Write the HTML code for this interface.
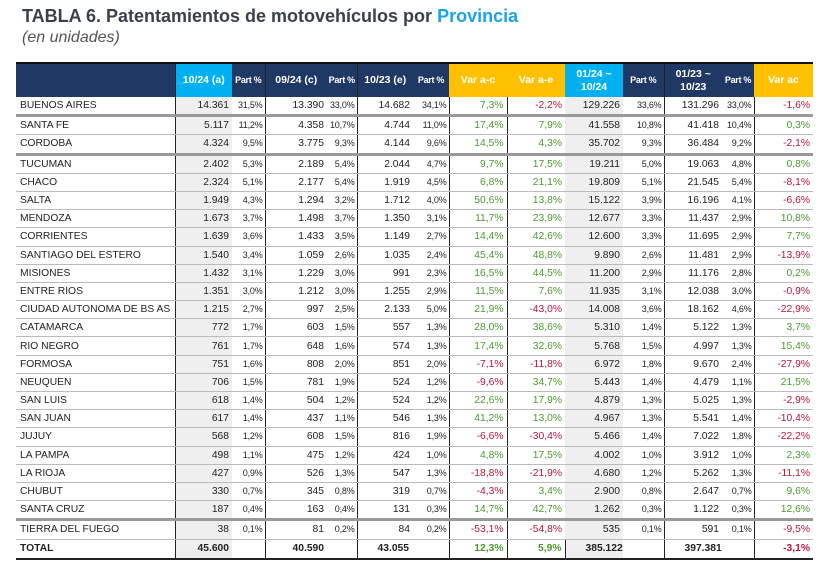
<!DOCTYPE html>
<html><head><meta charset="utf-8"><style>
body{margin:0;width:823px;height:565px;background:#fff;font-family:"Liberation Sans",sans-serif;position:relative;overflow:hidden}
.t1{position:absolute;left:22px;top:6px;font-size:18px;font-weight:bold;color:#3b404c;letter-spacing:0px;white-space:nowrap}
.t1 span{color:#1aa3e8}
.t2{position:absolute;left:22px;top:29px;font-size:16px;font-style:italic;color:#555}
table{position:absolute;left:16px;top:62px;border-collapse:collapse;table-layout:fixed;width:797px;font-size:10.3px;color:#222}
th{background:#203864;color:#fff;font-weight:bold;height:33px;padding:0;font-size:10.5px;border-top:2px solid #111;line-height:13px;white-space:nowrap;overflow:hidden}
th.c{background:#00b0f0}th.y{background:#ffc000}
th.s{font-size:9px;letter-spacing:-0.3px}
td{height:17.2px;line-height:11px;padding:0 3px;text-align:right;border-bottom:1px solid #bbb;white-space:nowrap;overflow:visible;vertical-align:middle}
td:first-child{text-align:left;padding-left:4px}
td.p{font-size:9px;line-height:11px;padding-right:2px;letter-spacing:-0.2px}
td.g{background:#efefef}
.bl{border-left:1px solid #222}
.pos{color:#4a9a2c}.neg{color:#b5173a}
tr.k td{border-bottom:3px solid #999}
tr.tot td{font-weight:bold;border-bottom:2px solid #222;border-top:1px solid #222;height:18px}
tr.tot td.l{text-align:left;padding-left:20px}
</style></head><body>
<div class="t1">TABLA 6. Patentamientos de motovehículos por <span>Provincia</span></div>
<div class="t2">(en unidades)</div>
<table>
<colgroup><col style="width:159px"><col style="width:57px"><col style="width:33px"><col style="width:62px"><col style="width:30px"><col style="width:56px"><col style="width:36px"><col style="width:58px"><col style="width:58px"><col style="width:58px"><col style="width:41px"><col style="width:58px"><col style="width:32px"><col style="width:59px"></colgroup>
<tr><th></th><th class="c bl">10/24 (a)</th><th class="s">Part %</th><th class="bl">09/24 (c)</th><th class="s">Part %</th><th class="bl">10/23 (e)</th><th class="s">Part %</th><th class="y">Var a-c</th><th class="y">Var a-e</th><th class="c">01/24 ~<br>10/24</th><th class="s">Part %</th><th class="bl">01/23 ~<br>10/23</th><th class="s">Part %</th><th class="y">Var ac</th></tr>
<tr class="k"><td>BUENOS AIRES</td><td class="g bl">14.361</td><td class="p">31,5%</td><td class="bl">13.390</td><td class="p">33,0%</td><td class="bl">14.682</td><td class="p">34,1%</td><td class="bl pos">7,3%</td><td class="bl neg">-2,2%</td><td class="g">129.226</td><td class="p">33,6%</td><td class="bl">131.296</td><td class="p">33,0%</td><td class="bl neg">-1,6%</td></tr>
<tr><td>SANTA FE</td><td class="g bl">5.117</td><td class="p">11,2%</td><td class="bl">4.358</td><td class="p">10,7%</td><td class="bl">4.744</td><td class="p">11,0%</td><td class="bl pos">17,4%</td><td class="bl pos">7,9%</td><td class="g">41.558</td><td class="p">10,8%</td><td class="bl">41.418</td><td class="p">10,4%</td><td class="bl pos">0,3%</td></tr>
<tr class="k"><td>CORDOBA</td><td class="g bl">4.324</td><td class="p">9,5%</td><td class="bl">3.775</td><td class="p">9,3%</td><td class="bl">4.144</td><td class="p">9,6%</td><td class="bl pos">14,5%</td><td class="bl pos">4,3%</td><td class="g">35.702</td><td class="p">9,3%</td><td class="bl">36.484</td><td class="p">9,2%</td><td class="bl neg">-2,1%</td></tr>
<tr><td>TUCUMAN</td><td class="g bl">2.402</td><td class="p">5,3%</td><td class="bl">2.189</td><td class="p">5,4%</td><td class="bl">2.044</td><td class="p">4,7%</td><td class="bl pos">9,7%</td><td class="bl pos">17,5%</td><td class="g">19.211</td><td class="p">5,0%</td><td class="bl">19.063</td><td class="p">4,8%</td><td class="bl pos">0,8%</td></tr>
<tr><td>CHACO</td><td class="g bl">2.324</td><td class="p">5,1%</td><td class="bl">2.177</td><td class="p">5,4%</td><td class="bl">1.919</td><td class="p">4,5%</td><td class="bl pos">6,8%</td><td class="bl pos">21,1%</td><td class="g">19.809</td><td class="p">5,1%</td><td class="bl">21.545</td><td class="p">5,4%</td><td class="bl neg">-8,1%</td></tr>
<tr><td>SALTA</td><td class="g bl">1.949</td><td class="p">4,3%</td><td class="bl">1.294</td><td class="p">3,2%</td><td class="bl">1.712</td><td class="p">4,0%</td><td class="bl pos">50,6%</td><td class="bl pos">13,8%</td><td class="g">15.122</td><td class="p">3,9%</td><td class="bl">16.196</td><td class="p">4,1%</td><td class="bl neg">-6,6%</td></tr>
<tr><td>MENDOZA</td><td class="g bl">1.673</td><td class="p">3,7%</td><td class="bl">1.498</td><td class="p">3,7%</td><td class="bl">1.350</td><td class="p">3,1%</td><td class="bl pos">11,7%</td><td class="bl pos">23,9%</td><td class="g">12.677</td><td class="p">3,3%</td><td class="bl">11.437</td><td class="p">2,9%</td><td class="bl pos">10,8%</td></tr>
<tr><td>CORRIENTES</td><td class="g bl">1.639</td><td class="p">3,6%</td><td class="bl">1.433</td><td class="p">3,5%</td><td class="bl">1.149</td><td class="p">2,7%</td><td class="bl pos">14,4%</td><td class="bl pos">42,6%</td><td class="g">12.600</td><td class="p">3,3%</td><td class="bl">11.695</td><td class="p">2,9%</td><td class="bl pos">7,7%</td></tr>
<tr><td>SANTIAGO DEL ESTERO</td><td class="g bl">1.540</td><td class="p">3,4%</td><td class="bl">1.059</td><td class="p">2,6%</td><td class="bl">1.035</td><td class="p">2,4%</td><td class="bl pos">45,4%</td><td class="bl pos">48,8%</td><td class="g">9.890</td><td class="p">2,6%</td><td class="bl">11.481</td><td class="p">2,9%</td><td class="bl neg">-13,9%</td></tr>
<tr><td>MISIONES</td><td class="g bl">1.432</td><td class="p">3,1%</td><td class="bl">1.229</td><td class="p">3,0%</td><td class="bl">991</td><td class="p">2,3%</td><td class="bl pos">16,5%</td><td class="bl pos">44,5%</td><td class="g">11.200</td><td class="p">2,9%</td><td class="bl">11.176</td><td class="p">2,8%</td><td class="bl pos">0,2%</td></tr>
<tr><td>ENTRE RIOS</td><td class="g bl">1.351</td><td class="p">3,0%</td><td class="bl">1.212</td><td class="p">3,0%</td><td class="bl">1.255</td><td class="p">2,9%</td><td class="bl pos">11,5%</td><td class="bl pos">7,6%</td><td class="g">11.935</td><td class="p">3,1%</td><td class="bl">12.038</td><td class="p">3,0%</td><td class="bl neg">-0,9%</td></tr>
<tr><td>CIUDAD AUTONOMA DE BS AS</td><td class="g bl">1.215</td><td class="p">2,7%</td><td class="bl">997</td><td class="p">2,5%</td><td class="bl">2.133</td><td class="p">5,0%</td><td class="bl pos">21,9%</td><td class="bl neg">-43,0%</td><td class="g">14.008</td><td class="p">3,6%</td><td class="bl">18.162</td><td class="p">4,6%</td><td class="bl neg">-22,9%</td></tr>
<tr><td>CATAMARCA</td><td class="g bl">772</td><td class="p">1,7%</td><td class="bl">603</td><td class="p">1,5%</td><td class="bl">557</td><td class="p">1,3%</td><td class="bl pos">28,0%</td><td class="bl pos">38,6%</td><td class="g">5.310</td><td class="p">1,4%</td><td class="bl">5.122</td><td class="p">1,3%</td><td class="bl pos">3,7%</td></tr>
<tr><td>RIO NEGRO</td><td class="g bl">761</td><td class="p">1,7%</td><td class="bl">648</td><td class="p">1,6%</td><td class="bl">574</td><td class="p">1,3%</td><td class="bl pos">17,4%</td><td class="bl pos">32,6%</td><td class="g">5.768</td><td class="p">1,5%</td><td class="bl">4.997</td><td class="p">1,3%</td><td class="bl pos">15,4%</td></tr>
<tr><td>FORMOSA</td><td class="g bl">751</td><td class="p">1,6%</td><td class="bl">808</td><td class="p">2,0%</td><td class="bl">851</td><td class="p">2,0%</td><td class="bl neg">-7,1%</td><td class="bl neg">-11,8%</td><td class="g">6.972</td><td class="p">1,8%</td><td class="bl">9.670</td><td class="p">2,4%</td><td class="bl neg">-27,9%</td></tr>
<tr><td>NEUQUEN</td><td class="g bl">706</td><td class="p">1,5%</td><td class="bl">781</td><td class="p">1,9%</td><td class="bl">524</td><td class="p">1,2%</td><td class="bl neg">-9,6%</td><td class="bl pos">34,7%</td><td class="g">5.443</td><td class="p">1,4%</td><td class="bl">4.479</td><td class="p">1,1%</td><td class="bl pos">21,5%</td></tr>
<tr><td>SAN LUIS</td><td class="g bl">618</td><td class="p">1,4%</td><td class="bl">504</td><td class="p">1,2%</td><td class="bl">524</td><td class="p">1,2%</td><td class="bl pos">22,6%</td><td class="bl pos">17,9%</td><td class="g">4.879</td><td class="p">1,3%</td><td class="bl">5.025</td><td class="p">1,3%</td><td class="bl neg">-2,9%</td></tr>
<tr><td>SAN JUAN</td><td class="g bl">617</td><td class="p">1,4%</td><td class="bl">437</td><td class="p">1,1%</td><td class="bl">546</td><td class="p">1,3%</td><td class="bl pos">41,2%</td><td class="bl pos">13,0%</td><td class="g">4.967</td><td class="p">1,3%</td><td class="bl">5.541</td><td class="p">1,4%</td><td class="bl neg">-10,4%</td></tr>
<tr><td>JUJUY</td><td class="g bl">568</td><td class="p">1,2%</td><td class="bl">608</td><td class="p">1,5%</td><td class="bl">816</td><td class="p">1,9%</td><td class="bl neg">-6,6%</td><td class="bl neg">-30,4%</td><td class="g">5.466</td><td class="p">1,4%</td><td class="bl">7.022</td><td class="p">1,8%</td><td class="bl neg">-22,2%</td></tr>
<tr><td>LA PAMPA</td><td class="g bl">498</td><td class="p">1,1%</td><td class="bl">475</td><td class="p">1,2%</td><td class="bl">424</td><td class="p">1,0%</td><td class="bl pos">4,8%</td><td class="bl pos">17,5%</td><td class="g">4.002</td><td class="p">1,0%</td><td class="bl">3.912</td><td class="p">1,0%</td><td class="bl pos">2,3%</td></tr>
<tr><td>LA RIOJA</td><td class="g bl">427</td><td class="p">0,9%</td><td class="bl">526</td><td class="p">1,3%</td><td class="bl">547</td><td class="p">1,3%</td><td class="bl neg">-18,8%</td><td class="bl neg">-21,9%</td><td class="g">4.680</td><td class="p">1,2%</td><td class="bl">5.262</td><td class="p">1,3%</td><td class="bl neg">-11,1%</td></tr>
<tr><td>CHUBUT</td><td class="g bl">330</td><td class="p">0,7%</td><td class="bl">345</td><td class="p">0,8%</td><td class="bl">319</td><td class="p">0,7%</td><td class="bl neg">-4,3%</td><td class="bl pos">3,4%</td><td class="g">2.900</td><td class="p">0,8%</td><td class="bl">2.647</td><td class="p">0,7%</td><td class="bl pos">9,6%</td></tr>
<tr class="k"><td>SANTA CRUZ</td><td class="g bl">187</td><td class="p">0,4%</td><td class="bl">163</td><td class="p">0,4%</td><td class="bl">131</td><td class="p">0,3%</td><td class="bl pos">14,7%</td><td class="bl pos">42,7%</td><td class="g">1.262</td><td class="p">0,3%</td><td class="bl">1.122</td><td class="p">0,3%</td><td class="bl pos">12,6%</td></tr>
<tr><td>TIERRA DEL FUEGO</td><td class="g bl">38</td><td class="p">0,1%</td><td class="bl">81</td><td class="p">0,2%</td><td class="bl">84</td><td class="p">0,2%</td><td class="bl neg">-53,1%</td><td class="bl neg">-54,8%</td><td class="g">535</td><td class="p">0,1%</td><td class="bl">591</td><td class="p">0,1%</td><td class="bl neg">-9,5%</td></tr>
<tr class="tot"><td>TOTAL</td><td class="g bl">45.600</td><td class="p"></td><td class="bl">40.590</td><td class="p"></td><td class="bl l">43.055</td><td class="p"></td><td class="bl pos">12,3%</td><td class="bl pos">5,9%</td><td class="g bl l">385.122</td><td class="p"></td><td class="bl l">397.381</td><td class="p"></td><td class="bl neg">-3,1%</td></tr>
</table>
</body></html>
